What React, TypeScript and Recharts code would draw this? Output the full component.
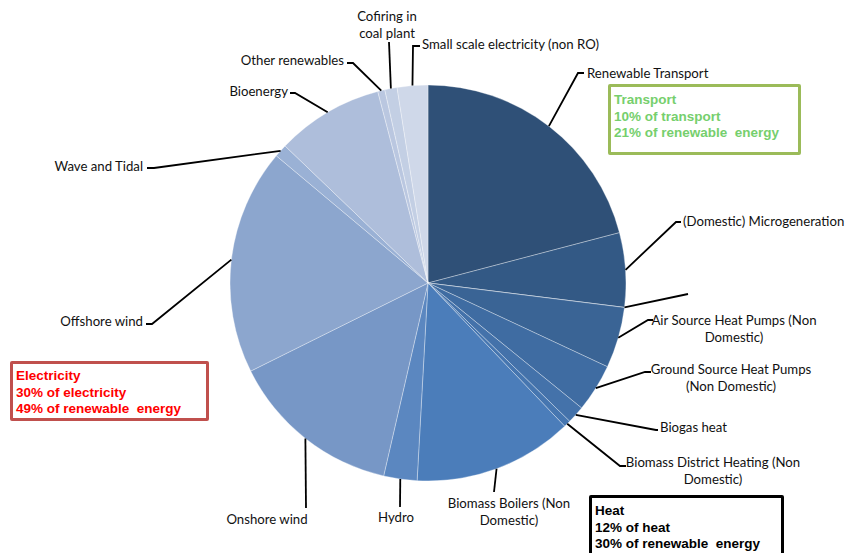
import { PieChart, Pie, Cell } from 'recharts';

// slice names, clockwise from 12 o'clock
const names = [
    'Renewable Transport',
    '(Domestic) Microgeneration',
    '',
    'Air Source Heat Pumps (Non Domestic)',
    'Ground Source Heat Pumps (Non Domestic)',
    'Biogas heat',
    'Biomass District Heating (Non Domestic)',
    'Biomass Boilers (Non Domestic)',
    'Hydro',
    'Onshore wind',
    'Offshore wind',
    'Wave and Tidal',
    'Bioenergy',
    'Other renewables',
    'Cofiring in coal plant',
    'Small scale electricity (non RO)',
];

// share of renewable energy, %
const shares = [20.9, 6.06, 0.01, 4.97, 3.92, 1.44, 0.56, 13.0, 2.72, 14.06, 18.44, 1.06, 8.75, 0.58, 1.0, 2.5];

const sliceColors = [
    '#2f5077', '#335985', '#36608f', '#3a6495', '#3f6ca2', '#4472aa', '#4676b0', '#4b7dba',
    '#5b87c0', '#7797c6', '#8ca6ce', '#9ab1d5', '#aebedb', '#bac7e0', '#c3cfe4', '#cfd8e9',
];

// label text lines
const labelLines = [
    ['Renewable Transport'],
    ['(Domestic) Microgeneration'],
    [],
    ['Air Source Heat Pumps (Non', 'Domestic)'],
    ['Ground Source Heat Pumps', '(Non Domestic)'],
    ['Biogas heat'],
    ['Biomass District Heating (Non', 'Domestic)'],
    ['Biomass Boilers (Non', 'Domestic)'],
    ['Hydro'],
    ['Onshore wind'],
    ['Offshore wind'],
    ['Wave and Tidal'],
    ['Bioenergy'],
    ['Other renewables'],
    ['Cofiring in', 'coal plant'],
    ['Small scale electricity (non RO)'],
];

// leader line bends and text anchors (annotation layout, not data)
type Layout = { pts: number[][]; tx: number; ty: number; anchor: 'start' | 'middle' | 'end' };
const labelLayout: Layout[] = [
    { pts: [[578, 73], [584, 73]], tx: 587, ty: 73, anchor: 'start' },
    { pts: [[676, 222], [681, 222]], tx: 683, ty: 221, anchor: 'start' },
    { pts: [[688, 294]], tx: 0, ty: 0, anchor: 'start' },
    { pts: [[648, 320], [653, 320]], tx: 734, ty: 320, anchor: 'middle' },
    { pts: [[645, 372], [651, 372]], tx: 731, ty: 369, anchor: 'middle' },
    { pts: [[656, 430], [658, 430]], tx: 660, ty: 427, anchor: 'start' },
    { pts: [[620, 466], [626, 466]], tx: 713, ty: 462, anchor: 'middle' },
    { pts: [[494, 492]], tx: 509, ty: 503, anchor: 'middle' },
    { pts: [[400, 507]], tx: 396, ty: 517, anchor: 'middle' },
    { pts: [[306, 508]], tx: 267, ty: 519, anchor: 'middle' },
    { pts: [[152, 324], [146, 324]], tx: 143, ty: 321, anchor: 'end' },
    { pts: [[154, 168], [147, 168]], tx: 143, ty: 166, anchor: 'end' },
    { pts: [[295, 93], [290, 93]], tx: 288, ty: 91, anchor: 'end' },
    { pts: [[353, 63], [347, 63]], tx: 344, ty: 60, anchor: 'end' },
    { pts: [[389, 42]], tx: 387, ty: 16, anchor: 'middle' },
    { pts: [[413, 46], [420, 46]], tx: 422, ty: 44, anchor: 'start' },
];

const data = names.map((name, i) => ({ name, value: shares[i] }));

const RAD = Math.PI / 180;
const labelFont = 'Lato, "Noto Sans", sans-serif';

const renderLabel = (props: any) => {
    const { cx, cy, midAngle, outerRadius, index } = props;
    const lay = labelLayout[index];
    const sx = cx + outerRadius * Math.cos(-midAngle * RAD);
    const sy = cy + outerRadius * Math.sin(-midAngle * RAD);
    const path = [[sx, sy], ...lay.pts].map((p, i) => `${i ? 'L' : 'M'}${p[0]},${p[1]}`).join(' ');
    const lines = labelLines[index];
    return (
        <g key={`lbl-${index}`}>
            <path d={path} stroke="#000" strokeWidth={1.8} fill="none" />
            {lines.length > 0 && (
                <text
                    x={lay.tx}
                    y={lay.ty}
                    textAnchor={lay.anchor}
                    dominantBaseline="central"
                    fontFamily={labelFont}
                    fontSize={13.2}
                    fill="#111"
                >
                    {lines.map((l, i) => (
                        <tspan key={i} x={lay.tx} dy={i === 0 ? 0 : 16.5}>
                            {l}
                        </tspan>
                    ))}
                </text>
            )}
        </g>
    );
};

const boxText = {
    fontFamily: '"Liberation Sans", Arial, sans-serif',
    fontWeight: 700,
    fontSize: '13.5px',
    lineHeight: '16.5px',
    whiteSpace: 'pre' as const,
};

export default function App() {
    return (
        <div style={{ position: 'absolute', left: 0, top: 0, width: 854, height: 553, background: '#fff', overflow: 'hidden' }}>
            <PieChart width={854} height={553} margin={{ top: 0, right: 0, bottom: 0, left: 0 }}>
                <Pie
                    data={data}
                    dataKey="value"
                    nameKey="name"
                    cx={428}
                    cy={283}
                    outerRadius={198}
                    startAngle={90}
                    endAngle={-270}
                    stroke="#ffffff"
                    strokeWidth={0.6}
                    strokeOpacity={0.55}
                    labelLine={false}
                    label={renderLabel}
                    isAnimationActive={false}
                >
                    {data.map((entry, index) => (
                        <Cell key={`cell-${index}`} fill={sliceColors[index]} />
                    ))}
                </Pie>
            </PieChart>

            {/* Transport box */}
            <div style={{ position: 'absolute', left: 608, top: 84, width: 184, height: 60, border: '3px solid #9bbb59', borderRadius: 2, padding: '5px 0 0 3px', boxSizing: 'content-box', color: '#76cf6d', ...boxText }}>
                {'Transport\n10% of transport\n21% of renewable  energy'}
            </div>

            {/* Electricity box */}
            <div style={{ position: 'absolute', left: 10, top: 361, width: 190, height: 50, border: '3px solid #c0504d', borderRadius: 2, padding: '4px 0 0 3px', boxSizing: 'content-box', color: '#ff0000', ...boxText }}>
                {'Electricity\n30% of electricity\n49% of renewable  energy'}
            </div>

            {/* Heat box */}
            <div style={{ position: 'absolute', left: 589, top: 495, width: 186, height: 70, border: '3px solid #000', borderRadius: 2, padding: '5px 0 0 3px', boxSizing: 'content-box', color: '#000', ...boxText }}>
                {'Heat\n12% of heat\n30% of renewable  energy'}
            </div>
        </div>
    );
}
